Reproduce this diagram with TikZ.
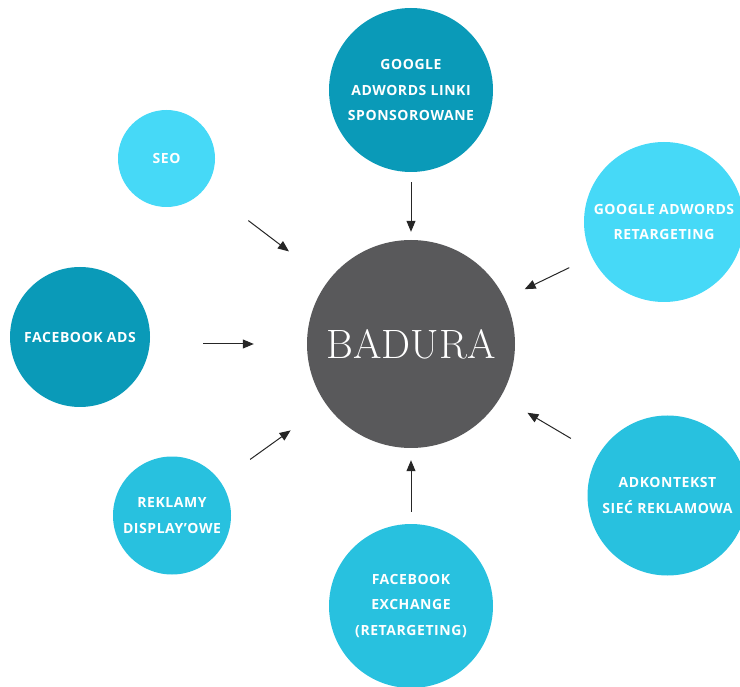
\documentclass[tikz,border=0pt]{standalone}
\usepackage{fontspec}
\setsansfont{Open Sans}
\usetikzlibrary{arrows.meta}

\definecolor{tealdark}{HTML}{0A9AB8}
\definecolor{cyanlight}{HTML}{46D9F7}
\definecolor{cyanmid}{HTML}{28C1DF}
\definecolor{hubgray}{HTML}{59595B}

\begin{document}
\begin{tikzpicture}[
    x=1pt, y=-1pt,
    hub/.style={circle, fill=hubgray, minimum size=208pt, inner sep=0pt, text=white, font=\fontsize{41}{46}\selectfont\addfontfeature{LetterSpace=5}},
    bubble/.style={circle, minimum size=#1, inner sep=0pt, text=white, align=center, font=\sffamily\bfseries\fontsize{14}{25.5}\selectfont\addfontfeature{LetterSpace=4}},
    arr/.style={-{Triangle[length=11pt, width=9pt]}, line width=1pt, draw=black!85}
]
    \useasboundingbox (0,0) rectangle (740,687);

    \node[hub] (badura) at (411,344) {BADURA};

    \node[bubble=164pt, fill=tealdark] (linki) at (411,90) {GOOGLE\\ADWORDS LINKI\\SPONSOROWANE};
    \node[bubble=97pt, fill=cyanlight] (seo) at (166.5,158.5) {SEO};
    \node[bubble=160pt, fill=cyanlight] (retarg) at (664,222) {GOOGLE ADWORDS\\RETARGETING};
    \node[bubble=140pt, fill=tealdark] (fbads) at (80,337) {FACEBOOK ADS};
    \node[bubble=118pt, fill=cyanmid] (display) at (172,515.5) {REKLAMY\\DISPLAY’OWE};
    \node[bubble=164pt, fill=cyanmid] (fbx) at (411,606) {FACEBOOK\\EXCHANGE\\(RETARGETING)};
    \node[bubble=160pt, fill=cyanmid] (adkontekst) at (667.5,495.5) {ADKONTEKST\\SIEĆ REKLAMOWA};

    % short arrows pointing in to the centre
    \draw[arr, shorten <=10pt, shorten >=8pt] (linki) -- (badura);
    \draw[arr, shorten <=54pt, shorten >=49pt] (seo) -- (badura);
    \draw[arr, shorten <=25pt, shorten >=22pt] (retarg) -- (badura);
    \draw[arr, shorten <=53pt, shorten >=53pt] (fbads.east |- badura) -- (badura.west);
    \draw[arr, shorten <=37pt, shorten >=44pt] (display) -- (badura);
    \draw[arr, shorten <=12pt, shorten >=12pt] (fbx) -- (badura);
    \draw[arr, shorten <=32pt, shorten >=31pt] (adkontekst) -- (badura);
\end{tikzpicture}
\end{document}
